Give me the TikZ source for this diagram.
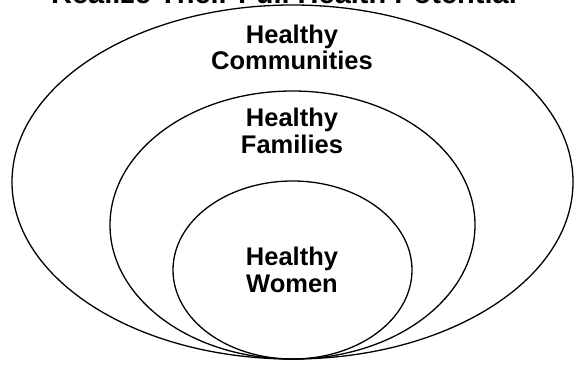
\documentclass[tikz,border=0pt]{standalone}
\usepackage{fontspec}
\setmainfont{Liberation Sans}
\tikzset{
  ring/.style={draw, line width=1.3pt},
  lbl/.style={align=center, anchor=base, font=\bfseries\fontsize{25.5}{26.7}\selectfont},
}
\begin{document}
\begin{tikzpicture}[x=1pt, y=-1pt]
        \useasboundingbox (0,0) rectangle (577,366);

        % nested rings, all touching at the bottom
        \draw[ring] (292.5,182) ellipse (280.5 and 177);
        \draw[ring] (292.5,225) ellipse (182.5 and 134);
        \draw[ring] (292.5,270) ellipse (119.5 and 89);

        \node[anchor=base, font=\bfseries\fontsize{29}{30}\selectfont] (title) at (284,4) {Realize Their Full Health Potential};

        % base anchor sits on the second line
        \node[lbl] (comm) at (292,70) {Healthy\\Communities};
        \node[lbl] (fam) at (292,153.3) {Healthy\\Families};
        \node[lbl] (wom) at (292,292) {Healthy\\Women};
      \end{tikzpicture}
\end{document}
